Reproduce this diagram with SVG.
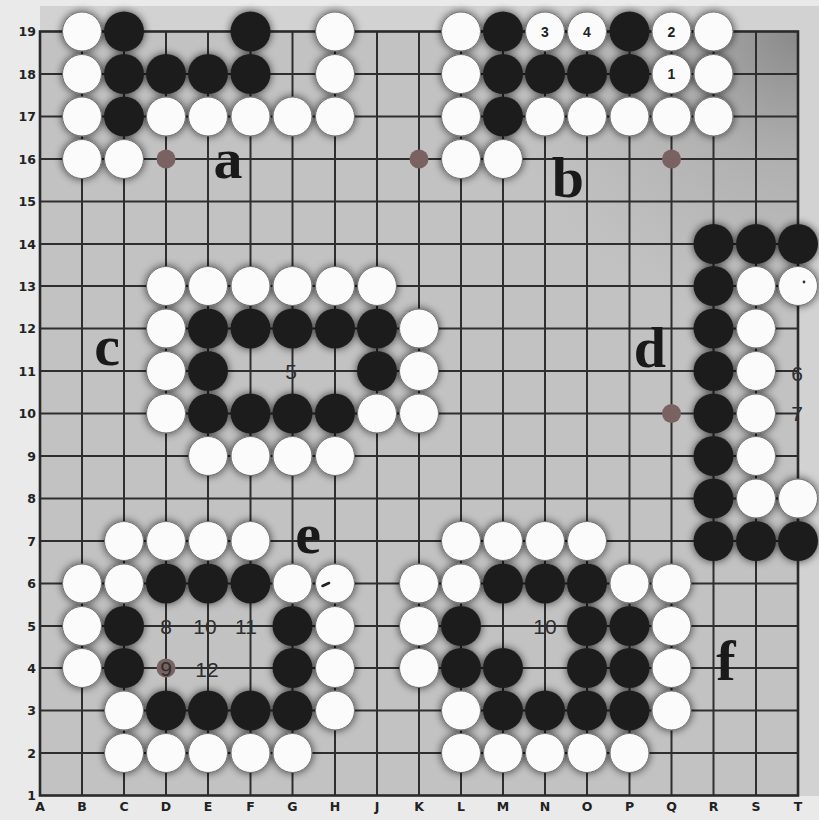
<svg xmlns="http://www.w3.org/2000/svg" width="819" height="820" viewBox="0 0 819 820">
<defs>
<style>
.w{fill:#fbfbfb;stroke:#6e6e6e;stroke-width:1}
.b{fill:#1e1e1e}
.hoshi{fill:#7a6262}
.grid{fill:none;stroke:#2e2e2e;stroke-width:2}
.edge{fill:none;stroke:#2a2a2a;stroke-width:2.6}
.lbl{font-family:"DejaVu Sans",sans-serif;font-weight:bold;font-size:12.5px;fill:#222}
.row{text-anchor:end}
.col{text-anchor:middle}
.big{font-family:"Liberation Serif",serif;font-weight:bold;font-size:58px;fill:#1a1a1a;text-anchor:middle}
.num{font-family:"Liberation Sans",sans-serif;font-size:21px;fill:#2e2e2e;text-anchor:middle}
.sn{font-family:"Liberation Sans",sans-serif;font-weight:bold;font-size:14px;fill:#222;text-anchor:middle}
</style>
<filter id="halo" x="-5%" y="-5%" width="110%" height="110%">
<feGaussianBlur in="SourceAlpha" stdDeviation="4.5"/>
<feComponentTransfer><feFuncA type="linear" slope="0.7"/></feComponentTransfer>
<feMerge><feMergeNode/><feMergeNode in="SourceGraphic"/></feMerge>
</filter>
<radialGradient id="tr" cx="798" cy="31" r="300" gradientUnits="userSpaceOnUse">
<stop offset="0" stop-color="#5a5a5a" stop-opacity="0.55"/>
<stop offset="0.45" stop-color="#6a6a6a" stop-opacity="0.2"/>
<stop offset="1" stop-color="#808080" stop-opacity="0"/>
</radialGradient>
</defs>

<g id="background">
<rect x="0" y="0" width="819" height="820" fill="#eaeaea"/>
<rect x="40" y="6" width="779" height="790" fill="#d2d2d2"/>
<rect x="40" y="31.5" width="758" height="764" fill="#c2c2c2"/>
<rect x="40" y="31.5" width="758" height="764" fill="url(#tr)"/>
</g>

<g id="grid">
<path class="grid" d="M82,31.5V795.5M124,31.5V795.5M166,31.5V795.5M208,31.5V795.5M250.5,31.5V795.5M292.5,31.5V795.5M335,31.5V795.5M377,31.5V795.5M419,31.5V795.5M461,31.5V795.5M503,31.5V795.5M545,31.5V795.5M587,31.5V795.5M629.5,31.5V795.5M671.5,31.5V795.5M713.5,31.5V795.5M756,31.5V795.5
M40,74H798M40,116.5H798M40,159H798M40,201.5H798M40,244H798M40,286H798M40,328.5H798M40,371H798M40,413.5H798M40,456H798M40,498.5H798M40,541H798M40,583.5H798M40,626H798M40,668H798M40,710.5H798M40,753H798"/>
<rect class="edge" x="40" y="31.5" width="758" height="764"/>
</g>

<g id="hoshi-points">
<circle class="hoshi" cx="166" cy="159" r="9.5"/>
<circle class="hoshi" cx="419" cy="159" r="9.5"/>
<circle class="hoshi" cx="671.5" cy="159" r="9.5"/>
<circle class="hoshi" cx="671.5" cy="413.5" r="9.5"/>
<circle class="hoshi" cx="166" cy="668" r="9.5"/>
</g>

<g id="coordinates" class="lbl">
<text class="row" x="36" y="36">19</text>
<text class="row" x="36" y="78.5">18</text>
<text class="row" x="36" y="121">17</text>
<text class="row" x="36" y="163.5">16</text>
<text class="row" x="36" y="206">15</text>
<text class="row" x="36" y="248.5">14</text>
<text class="row" x="36" y="290.5">13</text>
<text class="row" x="36" y="333">12</text>
<text class="row" x="36" y="375.5">11</text>
<text class="row" x="36" y="418">10</text>
<text class="row" x="36" y="460.5">9</text>
<text class="row" x="36" y="503">8</text>
<text class="row" x="36" y="545.5">7</text>
<text class="row" x="36" y="588">6</text>
<text class="row" x="36" y="630.5">5</text>
<text class="row" x="36" y="672.5">4</text>
<text class="row" x="36" y="715">3</text>
<text class="row" x="36" y="757.5">2</text>
<text class="row" x="36" y="800">1</text>
<text class="col" x="40" y="811">A</text>
<text class="col" x="82" y="811">B</text>
<text class="col" x="124" y="811">C</text>
<text class="col" x="166" y="811">D</text>
<text class="col" x="208" y="811">E</text>
<text class="col" x="250.5" y="811">F</text>
<text class="col" x="292.5" y="811">G</text>
<text class="col" x="335" y="811">H</text>
<text class="col" x="377" y="811">J</text>
<text class="col" x="419" y="811">K</text>
<text class="col" x="461" y="811">L</text>
<text class="col" x="503" y="811">M</text>
<text class="col" x="545" y="811">N</text>
<text class="col" x="587" y="811">O</text>
<text class="col" x="629.5" y="811">P</text>
<text class="col" x="671.5" y="811">Q</text>
<text class="col" x="713.5" y="811">R</text>
<text class="col" x="756" y="811">S</text>
<text class="col" x="798" y="811">T</text>
</g>

<g id="stones" filter="url(#halo)">
<g id="group-a">
<circle class="w" cx="82" cy="31.5" r="19.5"/>
<circle class="b" cx="124" cy="31.5" r="20"/>
<circle class="b" cx="250.5" cy="31.5" r="20"/>
<circle class="w" cx="335" cy="31.5" r="19.5"/>
<circle class="w" cx="82" cy="74" r="19.5"/>
<circle class="b" cx="124" cy="74" r="20"/>
<circle class="b" cx="166" cy="74" r="20"/>
<circle class="b" cx="208" cy="74" r="20"/>
<circle class="b" cx="250.5" cy="74" r="20"/>
<circle class="w" cx="335" cy="74" r="19.5"/>
<circle class="w" cx="82" cy="116.5" r="19.5"/>
<circle class="b" cx="124" cy="116.5" r="20"/>
<circle class="w" cx="166" cy="116.5" r="19.5"/>
<circle class="w" cx="208" cy="116.5" r="19.5"/>
<circle class="w" cx="250.5" cy="116.5" r="19.5"/>
<circle class="w" cx="292.5" cy="116.5" r="19.5"/>
<circle class="w" cx="335" cy="116.5" r="19.5"/>
<circle class="w" cx="82" cy="159" r="19.5"/>
<circle class="w" cx="124" cy="159" r="19.5"/>
</g>
<g id="group-b">
<circle class="w" cx="461" cy="31.5" r="19.5"/>
<circle class="b" cx="503" cy="31.5" r="20"/>
<circle class="w" cx="545" cy="31.5" r="19.5"/>
<circle class="w" cx="587" cy="31.5" r="19.5"/>
<circle class="b" cx="629.5" cy="31.5" r="20"/>
<circle class="w" cx="671.5" cy="31.5" r="19.5"/>
<circle class="w" cx="713.5" cy="31.5" r="19.5"/>
<circle class="w" cx="461" cy="74" r="19.5"/>
<circle class="b" cx="503" cy="74" r="20"/>
<circle class="b" cx="545" cy="74" r="20"/>
<circle class="b" cx="587" cy="74" r="20"/>
<circle class="b" cx="629.5" cy="74" r="20"/>
<circle class="w" cx="671.5" cy="74" r="19.5"/>
<circle class="w" cx="713.5" cy="74" r="19.5"/>
<circle class="w" cx="461" cy="116.5" r="19.5"/>
<circle class="b" cx="503" cy="116.5" r="20"/>
<circle class="w" cx="545" cy="116.5" r="19.5"/>
<circle class="w" cx="587" cy="116.5" r="19.5"/>
<circle class="w" cx="629.5" cy="116.5" r="19.5"/>
<circle class="w" cx="671.5" cy="116.5" r="19.5"/>
<circle class="w" cx="713.5" cy="116.5" r="19.5"/>
<circle class="w" cx="461" cy="159" r="19.5"/>
<circle class="w" cx="503" cy="159" r="19.5"/>
</g>
<g id="group-c">
<circle class="w" cx="166" cy="286" r="19.5"/>
<circle class="w" cx="208" cy="286" r="19.5"/>
<circle class="w" cx="250.5" cy="286" r="19.5"/>
<circle class="w" cx="292.5" cy="286" r="19.5"/>
<circle class="w" cx="335" cy="286" r="19.5"/>
<circle class="w" cx="377" cy="286" r="19.5"/>
<circle class="w" cx="166" cy="328.5" r="19.5"/>
<circle class="b" cx="208" cy="328.5" r="20"/>
<circle class="b" cx="250.5" cy="328.5" r="20"/>
<circle class="b" cx="292.5" cy="328.5" r="20"/>
<circle class="b" cx="335" cy="328.5" r="20"/>
<circle class="b" cx="377" cy="328.5" r="20"/>
<circle class="w" cx="419" cy="328.5" r="19.5"/>
<circle class="w" cx="166" cy="371" r="19.5"/>
<circle class="b" cx="208" cy="371" r="20"/>
<circle class="b" cx="377" cy="371" r="20"/>
<circle class="w" cx="419" cy="371" r="19.5"/>
<circle class="w" cx="166" cy="413.5" r="19.5"/>
<circle class="b" cx="208" cy="413.5" r="20"/>
<circle class="b" cx="250.5" cy="413.5" r="20"/>
<circle class="b" cx="292.5" cy="413.5" r="20"/>
<circle class="b" cx="335" cy="413.5" r="20"/>
<circle class="w" cx="377" cy="413.5" r="19.5"/>
<circle class="w" cx="419" cy="413.5" r="19.5"/>
<circle class="w" cx="208" cy="456" r="19.5"/>
<circle class="w" cx="250.5" cy="456" r="19.5"/>
<circle class="w" cx="292.5" cy="456" r="19.5"/>
<circle class="w" cx="335" cy="456" r="19.5"/>
</g>
<g id="group-d">
<circle class="b" cx="713.5" cy="244" r="20"/>
<circle class="b" cx="756" cy="244" r="20"/>
<circle class="b" cx="798" cy="244" r="20"/>
<circle class="b" cx="713.5" cy="286" r="20"/>
<circle class="w" cx="756" cy="286" r="19.5"/>
<circle class="w" cx="798" cy="286" r="19.5"/>
<circle class="b" cx="713.5" cy="328.5" r="20"/>
<circle class="w" cx="756" cy="328.5" r="19.5"/>
<circle class="b" cx="713.5" cy="371" r="20"/>
<circle class="w" cx="756" cy="371" r="19.5"/>
<circle class="b" cx="713.5" cy="413.5" r="20"/>
<circle class="w" cx="756" cy="413.5" r="19.5"/>
<circle class="b" cx="713.5" cy="456" r="20"/>
<circle class="w" cx="756" cy="456" r="19.5"/>
<circle class="b" cx="713.5" cy="498.5" r="20"/>
<circle class="w" cx="756" cy="498.5" r="19.5"/>
<circle class="w" cx="798" cy="498.5" r="19.5"/>
<circle class="b" cx="713.5" cy="541" r="20"/>
<circle class="b" cx="756" cy="541" r="20"/>
<circle class="b" cx="798" cy="541" r="20"/>
</g>
<g id="group-e">
<circle class="w" cx="124" cy="541" r="19.5"/>
<circle class="w" cx="166" cy="541" r="19.5"/>
<circle class="w" cx="208" cy="541" r="19.5"/>
<circle class="w" cx="250.5" cy="541" r="19.5"/>
<circle class="w" cx="82" cy="583.5" r="19.5"/>
<circle class="w" cx="124" cy="583.5" r="19.5"/>
<circle class="b" cx="166" cy="583.5" r="20"/>
<circle class="b" cx="208" cy="583.5" r="20"/>
<circle class="b" cx="250.5" cy="583.5" r="20"/>
<circle class="w" cx="292.5" cy="583.5" r="19.5"/>
<circle class="w" cx="335" cy="583.5" r="19.5"/>
<circle class="w" cx="82" cy="626" r="19.5"/>
<circle class="b" cx="124" cy="626" r="20"/>
<circle class="b" cx="292.5" cy="626" r="20"/>
<circle class="w" cx="335" cy="626" r="19.5"/>
<circle class="w" cx="82" cy="668" r="19.5"/>
<circle class="b" cx="124" cy="668" r="20"/>
<circle class="b" cx="292.5" cy="668" r="20"/>
<circle class="w" cx="335" cy="668" r="19.5"/>
<circle class="w" cx="124" cy="710.5" r="19.5"/>
<circle class="b" cx="166" cy="710.5" r="20"/>
<circle class="b" cx="208" cy="710.5" r="20"/>
<circle class="b" cx="250.5" cy="710.5" r="20"/>
<circle class="b" cx="292.5" cy="710.5" r="20"/>
<circle class="w" cx="335" cy="710.5" r="19.5"/>
<circle class="w" cx="124" cy="753" r="19.5"/>
<circle class="w" cx="166" cy="753" r="19.5"/>
<circle class="w" cx="208" cy="753" r="19.5"/>
<circle class="w" cx="250.5" cy="753" r="19.5"/>
<circle class="w" cx="292.5" cy="753" r="19.5"/>
</g>
<g id="group-f">
<circle class="w" cx="461" cy="541" r="19.5"/>
<circle class="w" cx="503" cy="541" r="19.5"/>
<circle class="w" cx="545" cy="541" r="19.5"/>
<circle class="w" cx="587" cy="541" r="19.5"/>
<circle class="w" cx="419" cy="583.5" r="19.5"/>
<circle class="w" cx="461" cy="583.5" r="19.5"/>
<circle class="b" cx="503" cy="583.5" r="20"/>
<circle class="b" cx="545" cy="583.5" r="20"/>
<circle class="b" cx="587" cy="583.5" r="20"/>
<circle class="w" cx="629.5" cy="583.5" r="19.5"/>
<circle class="w" cx="671.5" cy="583.5" r="19.5"/>
<circle class="w" cx="419" cy="626" r="19.5"/>
<circle class="b" cx="461" cy="626" r="20"/>
<circle class="b" cx="587" cy="626" r="20"/>
<circle class="b" cx="629.5" cy="626" r="20"/>
<circle class="w" cx="671.5" cy="626" r="19.5"/>
<circle class="w" cx="419" cy="668" r="19.5"/>
<circle class="b" cx="461" cy="668" r="20"/>
<circle class="b" cx="503" cy="668" r="20"/>
<circle class="b" cx="587" cy="668" r="20"/>
<circle class="b" cx="629.5" cy="668" r="20"/>
<circle class="w" cx="671.5" cy="668" r="19.5"/>
<circle class="w" cx="461" cy="710.5" r="19.5"/>
<circle class="b" cx="503" cy="710.5" r="20"/>
<circle class="b" cx="545" cy="710.5" r="20"/>
<circle class="b" cx="587" cy="710.5" r="20"/>
<circle class="b" cx="629.5" cy="710.5" r="20"/>
<circle class="w" cx="671.5" cy="710.5" r="19.5"/>
<circle class="w" cx="461" cy="753" r="19.5"/>
<circle class="w" cx="503" cy="753" r="19.5"/>
<circle class="w" cx="545" cy="753" r="19.5"/>
<circle class="w" cx="587" cy="753" r="19.5"/>
<circle class="w" cx="629.5" cy="753" r="19.5"/>
</g>
</g>

<g id="marks">
<path d="M322.5,586 L329,583" stroke="#222" stroke-width="2.6" stroke-linecap="round"/>
<circle cx="804" cy="282" r="1.4" fill="#333"/>
</g>

<g id="stone-numbers" class="sn">
<text x="545" y="36.5">3</text>
<text x="587" y="36.5">4</text>
<text x="671.5" y="36.5">2</text>
<text x="671.5" y="79">1</text>
</g>

<g id="move-numbers" class="num">
<text x="291" y="378.5">5</text>
<text x="797" y="381">6</text>
<text x="797" y="420.5">7</text>
<text x="166" y="634">8</text>
<text x="205" y="634">10</text>
<text x="246" y="634">11</text>
<text x="166" y="676">9</text>
<text x="207" y="677">12</text>
<text x="545" y="634">10</text>
</g>

<g id="letters" class="big">
<text x="228" y="178">a</text>
<text x="568" y="197">b</text>
<text x="107" y="365">c</text>
<text x="650" y="367">d</text>
<text x="308" y="553">e</text>
<text x="726" y="680">f</text>
</g>
</svg>
